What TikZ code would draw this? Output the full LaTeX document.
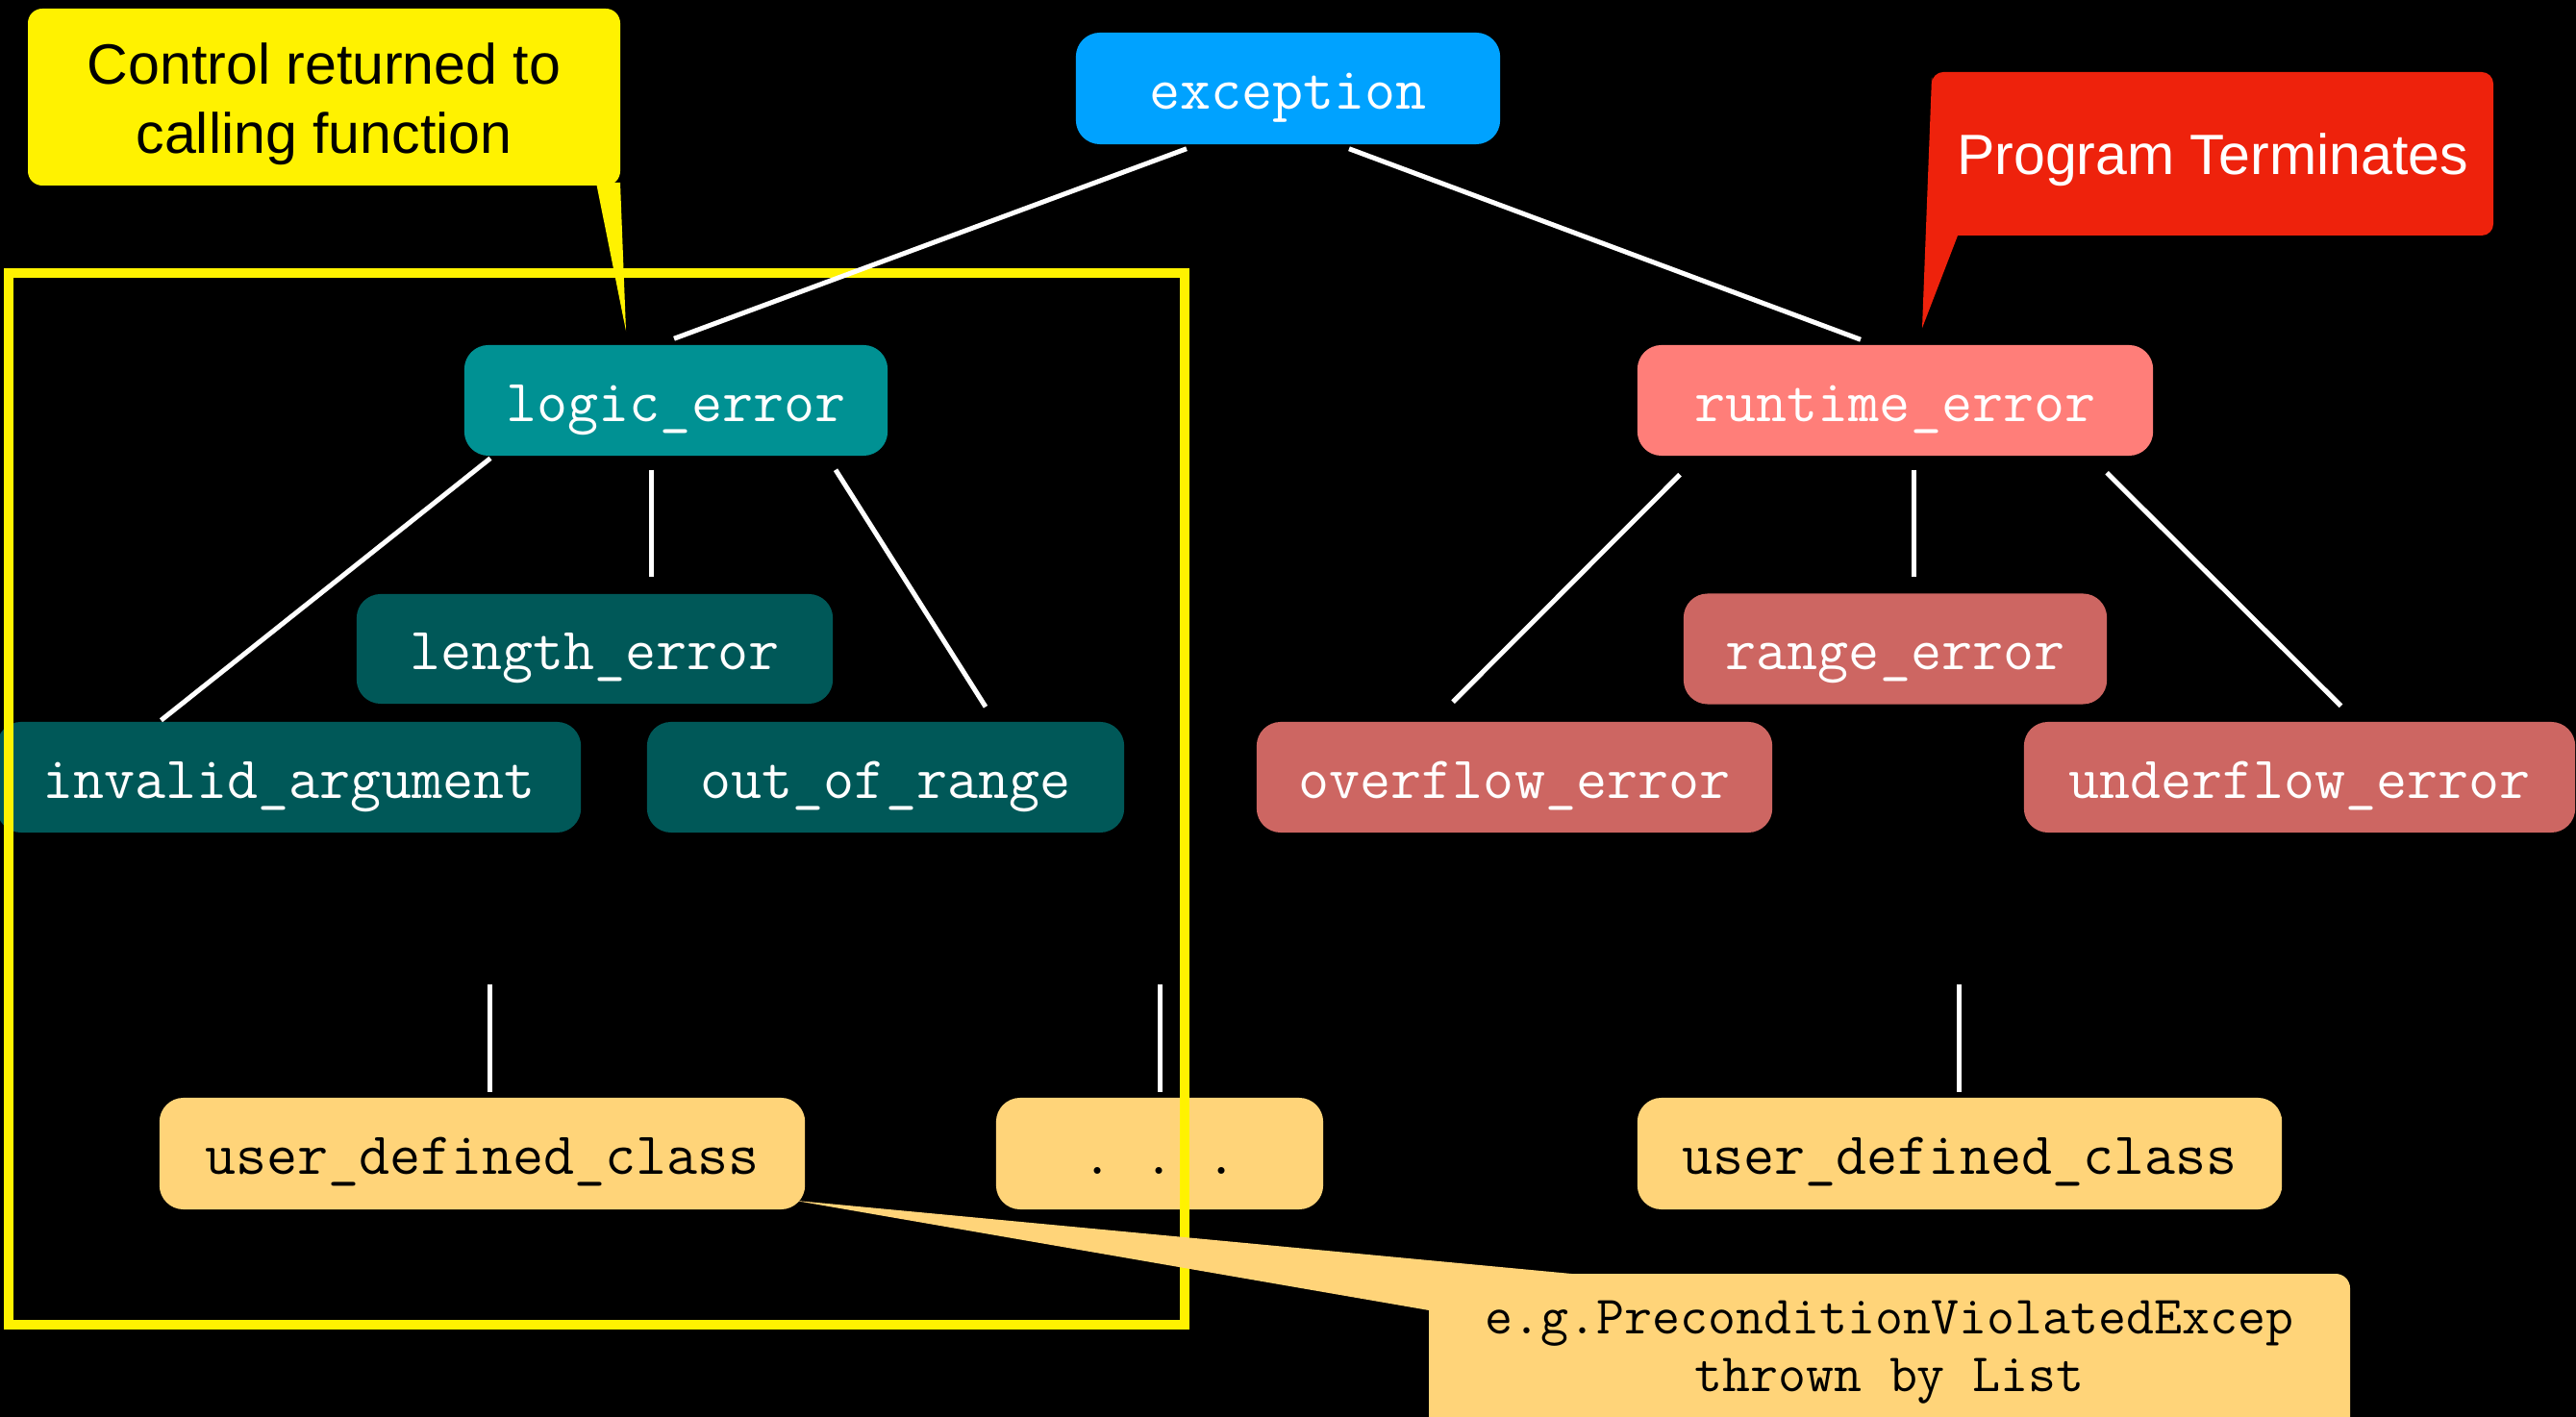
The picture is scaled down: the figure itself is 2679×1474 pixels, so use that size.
\documentclass[tikz,border=0pt]{standalone}
\usepackage{fontspec}
\newfontfamily\calloutfont{Liberation Sans}
\usetikzlibrary{calc}

\definecolor{excblue}{HTML}{00A2FF}
\definecolor{logicteal}{HTML}{009193}
\definecolor{darkteal}{HTML}{005858}
\definecolor{salmon}{HTML}{FF7E79}
\definecolor{brick}{HTML}{CD6662}
\definecolor{cantaloupe}{HTML}{FFD479}
\definecolor{alertred}{HTML}{EE220C}

\tikzset{
  cls/.style={rounded corners=0.25cm, inner sep=0pt, minimum height=1.15cm,
    text height=0.49cm, text depth=0.06cm, text=white,
    font=\ttfamily\fontsize{17.7}{20}\selectfont\frenchspacing},
  usercls/.style={cls, fill=cantaloupe, text=black, minimum height=1.16cm},
  link/.style={draw=white, line width=0.05cm},
  callout/.style={font=\calloutfont\fontsize{16.8}{20.5}\selectfont, align=center},
}

\begin{document}
\begin{tikzpicture}[x=0.01cm, y=-0.01cm]
	\fill[black] (0,0) rectangle (2679,1474);
	\useasboundingbox (0,0) rectangle (2679,1474);

	% standard exception classes
	\node[cls, fill=excblue, minimum width=4.41cm, minimum height=1.16cm] (exc) at (1339.5,92) {exception};
	\node[cls, fill=logicteal, minimum width=4.40cm] (logic) at (703,416.5) {logic\_error};
	\node[cls, fill=darkteal, minimum width=4.95cm, minimum height=1.14cm] (length) at (618.5,675) {length\_error};
	\node[cls, fill=darkteal, minimum width=6.07cm] (invalid) at (300.5,808.5) {invalid\_argument};
	\node[cls, fill=darkteal, minimum width=4.96cm] (outofrange) at (921,808.5) {out\_of\_range};
	\node[cls, fill=salmon, minimum width=5.36cm] (runtime) at (1971,416.5) {runtime\_error};
	\node[cls, fill=brick, minimum width=4.40cm] (range) at (1971,675) {range\_error};
	\node[cls, fill=brick, minimum width=5.36cm] (overflow) at (1575,808.5) {overflow\_error};
	\node[cls, fill=brick, minimum width=5.73cm] (underflow) at (2391.5,808.5) {underflow\_error};

	% own classes
	\node[usercls, minimum width=6.71cm] (udcl) at (501.5,1200) {user\_defined\_class};
	\node[usercls, minimum width=3.40cm] (dots) at (1206,1200) {. . .};
	\node[usercls, minimum width=6.70cm] (udcr) at (2038,1200) {user\_defined\_class};

	% caught region
	\draw[yellow, line width=0.1cm] (9,284) rectangle (1232,1378);

	\draw[link] ($(exc.south)+(-105.5,4)$) -- ($(logic.north)+(-2,-6)$);
	\draw[link] ($(exc.south)+(63.5,4)$) -- ($(runtime.north)+(-36,-5)$);
	\draw[link] ($(logic.south)+(-193,2)$) -- ($(invalid.north)+(-133,-1)$);
	\draw[link] ($(logic.south)+(-26,14)$) -- ($(length.north)+(58.5,-17)$);
	\draw[link] ($(logic.south)+(166,14)$) -- ($(outofrange.north)+(104,-15)$);
	\draw[link] ($(runtime.south)+(-224,19)$) -- ($(overflow.north)+(-64,-20)$);
	\draw[link] ($(runtime.south)+(19,14)$) -- ($(range.north)+(19,-17)$);
	\draw[link] ($(runtime.south)+(220,17)$) -- ($(underflow.north)+(43,-16)$);
	\draw[link] ($(udcl.north)+(7.5,-117)$) -- ($(udcl.north)+(7.5,-5)$);
	\draw[link] ($(dots.north)+(0,-117)$) -- ($(dots.north)+(0,-5)$);
	\draw[link] ($(udcr.north)+(-1,-117)$) -- ($(udcr.north)+(-1,-5)$);

	% callouts
	\fill[yellow, rounded corners=0.15cm] (29,9) rectangle (645,193);
	\fill[yellow] (620,190) -- (645,190) -- ($(logic.north)+(-52,-14)$) -- cycle;
	\node[callout, anchor=base] (returned) at (337,160) {Control returned to\\calling function};

	\fill[alertred, rounded corners=0.12cm] (2009,75) rectangle (2593,245);
	\fill[alertred] (2009,80) -- (2036,245) -- ($(runtime.north)+(28,-17)$) -- cycle;
	\node[callout, text=white, anchor=base] (terminates) at (2301,182) {Program Terminates};

	\fill[cantaloupe, rounded corners=0.15cm] (1486,1325) rectangle (2444,1530);
	\fill[cantaloupe] ($(udcl.south east)+(-12,-10)$) -- (1645,1326) -- (1486,1363) -- cycle;
	\node[font=\ttfamily\fontsize{16}{16.8}\selectfont, align=center, anchor=base] (note) at (1965,1447)
		{e.g.PreconditionViolatedExcep\\thrown by List};
\end{tikzpicture}
\end{document}
